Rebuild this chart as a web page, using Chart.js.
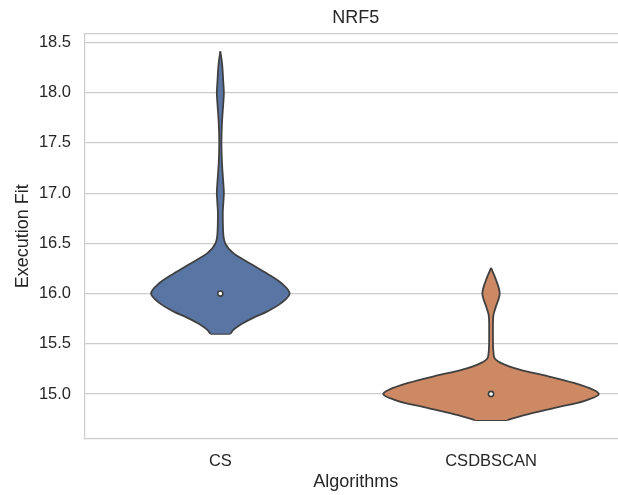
<!DOCTYPE html>
<html>
<head>
<meta charset="utf-8">
<script src="https://cdn.jsdelivr.net/npm/chart.js@4.4.0/dist/chart.umd.min.js"></script>
<style>
  html, body { margin: 0; padding: 0; background: #fff; overflow: hidden; }
  #wrap { width: 632px; height: 495px; }
</style>
</head>
<body>
<div id="wrap"><canvas id="myChart"></canvas></div>
<script>
const algorithms = ['CS', 'CSDBSCAN']
const medians = [16.0, 15.0]

// violin outlines: fit value and the half width of the violin at that value (x units)
const csValues = [15.60, 15.64, 15.69, 15.76, 15.82, 15.91, 16.00, 16.10, 16.20, 16.30, 16.40, 16.50, 16.64, 16.80, 16.90, 17.00, 17.10, 17.30, 17.50, 17.70, 17.90, 18.00, 18.10, 18.30, 18.41]
const csWidths = [0.037, 0.049, 0.074, 0.123, 0.172, 0.227, 0.256, 0.227, 0.172, 0.110, 0.049, 0.018, 0.010, 0.009, 0.011, 0.013, 0.011, 0.006, 0.004, 0.006, 0.011, 0.013, 0.011, 0.006, 0.0]

const csdbValues = [14.74, 14.79, 14.86, 14.93, 15.00, 15.04, 15.11, 15.18, 15.24, 15.31, 15.37, 15.54, 15.70, 15.79, 15.87, 16.00, 16.14, 16.255]
const csdbWidths = [0.060, 0.122, 0.232, 0.343, 0.398, 0.379, 0.306, 0.206, 0.109, 0.036, 0.011, 0.007, 0.007, 0.009, 0.018, 0.032, 0.018, 0.0]

const yTicks = [15.0, 15.5, 16.0, 16.5, 17.0, 17.5, 18.0, 18.5]

const fillColors = ['#5975a4', '#cc8963']
const edgeColor = '#404040'
const gridColor = '#cccccc'
const textColor = '#262626'
const fontFamily = "'Liberation Sans', Arial, sans-serif"

function violinSets(i, values, widths) {
    let left = values.map((v, k) => ({ x: i - widths[k], y: v }))
    let right = values.map((v, k) => ({ x: i + widths[k], y: v }))
    // flat cut at the lowest value
    let base = [{ x: i - widths[0], y: values[0] }, { x: i + widths[0], y: values[0] }]
    let line = { borderColor: edgeColor, borderWidth: 1.8, pointRadius: 0, cubicInterpolationMode: 'monotone', order: 1 }
    return [
        Object.assign({ data: left, fill: false }, line),
        Object.assign({ data: right, fill: '-1', backgroundColor: fillColors[i] }, line),
        Object.assign({ data: base, fill: false, tension: 0 }, line, { cubicInterpolationMode: 'default' })
    ]
}

let datasets = []
datasets = datasets.concat(violinSets(0, csValues, csWidths))
datasets = datasets.concat(violinSets(1, csdbValues, csdbWidths))
datasets.push({
    data: medians.map((m, i) => ({ x: i, y: m })),
    showLine: false,
    pointRadius: 2.6,
    pointBackgroundColor: '#ffffff',
    pointBorderColor: edgeColor,
    pointBorderWidth: 1.6,
    order: 0
})

const ctx = document.getElementById('myChart')

new Chart(ctx, {
    type: 'line',
    data: { datasets: datasets },
    options: {
        indexAxis: 'y',
        responsive: true,
        maintainAspectRatio: false,
        animation: false,
        layout: { padding: { left: 0, right: 3, top: 0, bottom: 0 } },
        plugins: {
            legend: { display: false },
            tooltip: { enabled: false },
            title: {
                display: true,
                text: 'NRF5',
                fullSize: false,
                color: textColor,
                font: { family: fontFamily, size: 18, weight: 'normal' },
                padding: { top: 7, bottom: 5 }
            }
        },
        scales: {
            x: {
                type: 'linear',
                position: 'bottom',
                min: -0.5,
                max: 1.5,
                afterBuildTicks: (s) => { s.ticks = algorithms.map((a, i) => ({ value: i })) },
                afterFit: (s) => { s.height = 56 },
                grid: { display: false },
                border: { color: gridColor, width: 1.2 },
                ticks: {
                    callback: (v) => algorithms[v],
                    color: textColor,
                    font: { family: fontFamily, size: 16.5 },
                    padding: 5,
                    maxRotation: 0
                },
                title: {
                    display: true,
                    text: 'Algorithms',
                    color: textColor,
                    font: { family: fontFamily, size: 18 },
                    padding: { top: 2, bottom: 2 }
                }
            },
            x2: {
                type: 'linear',
                position: 'top',
                min: -0.5,
                max: 1.5,
                afterFit: (s) => { s.height = 0 },
                grid: { display: false },
                border: { color: gridColor, width: 1.2 },
                ticks: { display: false }
            },
            y: {
                type: 'linear',
                min: 14.552,
                max: 18.588,
                afterBuildTicks: (s) => { s.ticks = yTicks.map((v) => ({ value: v })) },
                afterFit: (s) => { s.width = 85 },
                grid: { color: gridColor, lineWidth: 1.2, drawTicks: false },
                border: { color: gridColor, width: 1.2 },
                ticks: {
                    callback: (v) => v.toFixed(1),
                    color: textColor,
                    font: { family: fontFamily, size: 16.5 },
                    padding: 14
                },
                title: {
                    display: true,
                    text: 'Execution Fit',
                    color: textColor,
                    font: { family: fontFamily, size: 18 },
                    padding: { top: 12, bottom: 4 }
                }
            }
        }
    }
})
</script>
</body>
</html>
